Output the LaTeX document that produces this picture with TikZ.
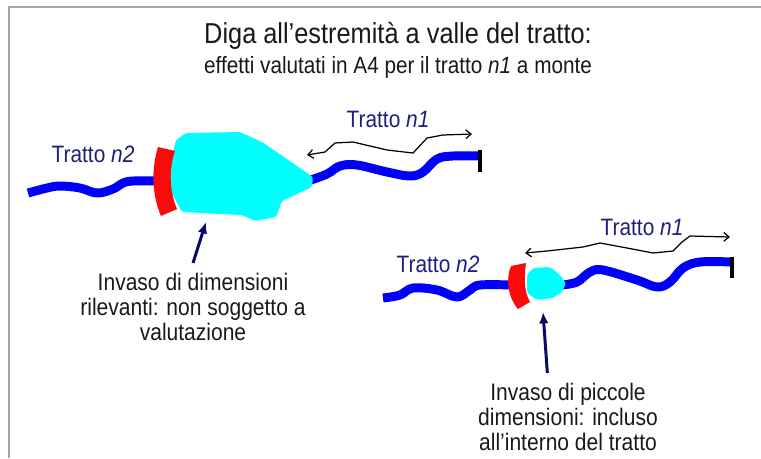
\documentclass[tikz,border=0pt]{standalone}
\usepackage{fontspec}
\setmainfont[FakeStretch=0.88]{Liberation Sans}
\definecolor{rvblue}{RGB}{0,0,250}
\definecolor{lkcyan}{RGB}{0,255,255}
\definecolor{dmred}{RGB}{250,10,10}
\definecolor{lbnavy}{RGB}{30,30,125}
\definecolor{dknavy}{RGB}{10,10,100}
\definecolor{txgray}{RGB}{25,25,25}
\definecolor{frgray}{RGB}{165,165,165}
\usetikzlibrary{arrows.meta,positioning}

\begin{document}
\begin{tikzpicture}[
  x=0.02cm,y=-0.02cm,
  river/.style={draw=rvblue,line width=5.1pt,line join=round},
  lake/.style={fill=lkcyan,rounded corners=1.5pt},
  dam/.style={fill=dmred},
  endbar/.style={draw=black,line width=2pt},
  reach/.style={{Straight Barb[length=3pt,width=5pt]}-{Straight Barb[length=3pt,width=5pt]},
    line width=0.7pt,line join=round},
  ptr/.style={-{Latex[length=6.5pt,width=5.5pt]},line width=1.7pt,dknavy},
  tlbl/.style={font=\fontsize{13.5}{15}\selectfont,text=lbnavy,inner sep=0pt,anchor=base},
  notebox/.style={font=\fontsize{13.6}{14.2}\selectfont,text=txgray,align=center,
    inner sep=5.8pt,anchor=north}
]
  \useasboundingbox (0,0) rectangle (761,458);
  \draw[frgray,line width=0.9pt] (761,7) -- (9,7) -- (9,458);
  % Title
  \node[font=\fontsize{16.4}{18}\selectfont,text=txgray,inner sep=0pt,anchor=base]
    (title) at (398,43) {Diga all’estremità a valle del tratto:};
  \node[font=\fontsize{13.4}{15}\selectfont,text=txgray,inner sep=0pt,anchor=base]
    (subtitle) at (398,73) {effetti valutati in A4 per il tratto \textit{n1} a monte};

  % Large reservoir
  \draw[river] plot[smooth,tension=0.6] coordinates {(28,193) (47,188) (60,186) (80,188)
    (97,193) (113,189) (123,183) (133,181) (157,181)};
  \draw[river] plot[smooth,tension=0.6] coordinates {(308,181) (327,174) (340,166) (357,165)
    (387,172) (410,176) (423,172) (437,159) (453,156) (480,156)};
  \draw[endbar] (480,150) -- (480,172);
  \fill[lake] (176,140) -- (186,133) -- (240,132) -- (262,142) -- (313,177) -- (312,187)
    -- (282,201) -- (276,217) -- (255,221) -- (242,215) -- (182,212) -- (170,190)
    -- (170,165) -- cycle;
  \fill[dam] (158,147) .. controls (151,170) and (152,195) .. (161,216) -- (177,209)
    .. controls (169,190) and (169,168) .. (175,151) -- cycle;
  \coordinate (bigdam) at (206,222);
  % Reach n1 above the large reservoir
  \coordinate (bigL) at (307,155);
  \coordinate (bigR) at (472,134);
  \draw[reach] (bigL) -- (325,152) -- (335,143) -- (353,142) -- (387,150) -- (413,153)
    -- (427,138) -- (443,135) -- (bigR);
  \node[tlbl] (bign1) at (388,127) {Tratto \textit{n1}};
  \node[tlbl] (bign2) at (93,162) {Tratto \textit{n2}};
  \node[notebox] (bignote) at (193,263) {Invaso di dimensioni\\rilevanti: non soggetto a\\valutazione};
  \draw[ptr] (bignote.north) -- (bigdam);

  % Small reservoir
  \draw[river] plot[smooth,tension=0.6] coordinates {(383,298) (400,295) (413,288) (437,290)
    (457,297) (470,290) (480,285) (512,285)};
  \draw[river] plot[smooth,tension=0.6] coordinates {(562,285) (577,282) (590,272) (603,270)
    (637,280) (657,287) (670,282) (683,268) (700,262) (732,262)};
  \draw[endbar] (732,257) -- (732,278);
  \fill[lake] (533,268) -- (550,267) -- (560,275) -- (566,283) -- (562,292) -- (553,298)
    -- (537,300) -- (527,293) -- (527,275) -- cycle;
  \fill[dam] (511,266) .. controls (506,278) and (507,296) .. (518,309) -- (530,302)
    .. controls (524,292) and (524,276) .. (526,263) -- cycle;
  \coordinate (smalldam) at (543,312);
  % Reach n1 above the small reservoir
  \coordinate (smallL) at (525,253);
  \coordinate (smallR) at (730,237);
  \draw[reach] (smallL) -- (547,251) -- (583,247) -- (600,243) -- (627,248) -- (653,253)
    -- (673,251) -- (682,242) -- (690,236) -- (smallR);
  \node[tlbl] (smalln1) at (642,235) {Tratto \textit{n1}};
  \node[tlbl] (smalln2) at (438,272) {Tratto \textit{n2}};
  \node[notebox] (smallnote) at (568,373) {Invaso di piccole\\dimensioni: incluso\\all’interno del tratto};
  \draw[ptr] (smallnote.115) -- (smalldam);
\end{tikzpicture}
\end{document}
